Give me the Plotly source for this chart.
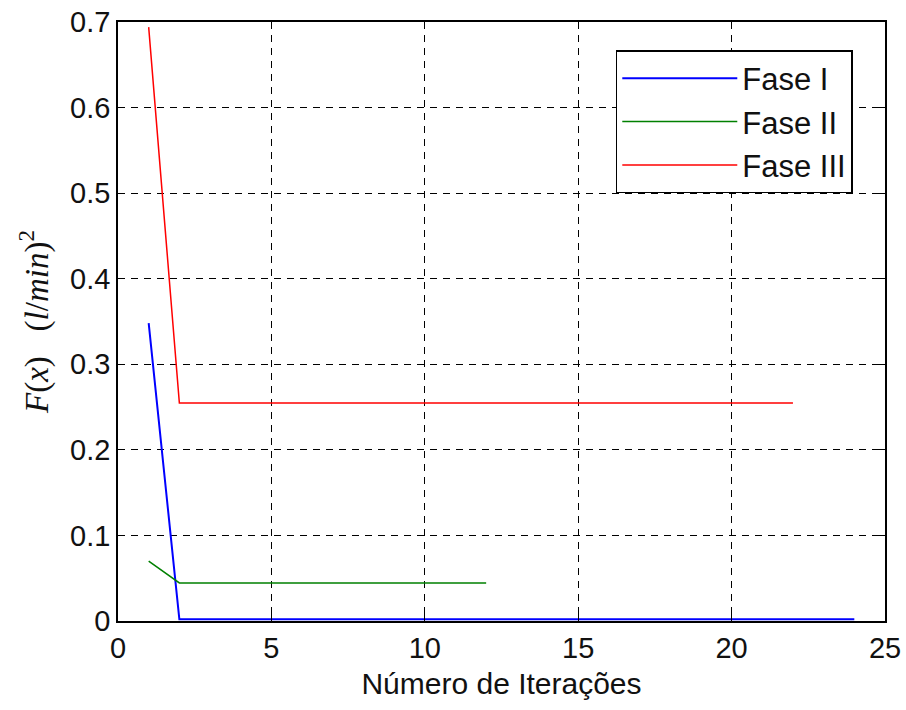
import plotly.graph_objects as go

iter_f1 = list(range(1, 25))
fase1 = [0.348] + [0.002] * 23
iter_f2 = list(range(1, 13))
fase2 = [0.070] + [0.0445] * 11
iter_f3 = list(range(1, 23))
fase3 = [0.694] + [0.2548] * 21

fig = go.Figure()
fig.add_trace(go.Scatter(x=iter_f1, y=fase1, mode="lines", name="Fase I", legendgroup="a",
                         line=dict(color="#0000ff", width=2)))
fig.add_trace(go.Scatter(x=iter_f2, y=fase2, mode="lines", name="Fase II", legendgroup="b",
                         line=dict(color="#008000", width=1.5)))
fig.add_trace(go.Scatter(x=iter_f3, y=fase3, mode="lines", name="Fase III", legendgroup="c",
                         line=dict(color="#ff0000", width=1.5)))

FONT = "Liberation Sans, Arial"
axis_common = dict(
    showline=True, linecolor="black", linewidth=1.5, mirror="allticks",
    ticks="inside", ticklen=7, tickcolor="black", tickwidth=1,
    showgrid=True, gridcolor="black", griddash="7px,6px", gridwidth=1.2,
    zeroline=False, automargin=False,
    tickfont=dict(family=FONT, size=29, color="#111"),
)

fig.update_layout(
    width=906, height=710,
    margin=dict(l=118, r=21, t=22, b=89),
    paper_bgcolor="white", plot_bgcolor="white",
    xaxis=dict(range=[0, 25], tickvals=[0, 5, 10, 15, 20, 25],
               title=dict(text="Número de Iterações", standoff=10,
                          font=dict(family=FONT, size=30, color="#111")),
               **axis_common),
    yaxis=dict(range=[0, 0.7], tickvals=[0, 0.1, 0.2, 0.3, 0.4, 0.5, 0.6, 0.7],
               ticktext=["0", "0.1", "0.2", "0.3", "0.4", "0.5", "0.6", "0.7"],
               title=dict(text="<i>F</i>(<i>x</i>)&#160;&#160;&#160;(<i>l</i>/<i>min</i>)<sup>2</sup>",
                          standoff=12,
                          font=dict(family="Liberation Serif, Times New Roman", size=33, color="#111")),
               **axis_common),
    legend=dict(x=0.649, y=0.953, xanchor="left", yanchor="top",
                bgcolor="white", bordercolor="black", borderwidth=1.5,
                font=dict(family=FONT, size=31, color="#111"),
                itemwidth=115, tracegroupgap=9, traceorder="normal"),
    showlegend=True,
)

fig.write_html("out.html")
